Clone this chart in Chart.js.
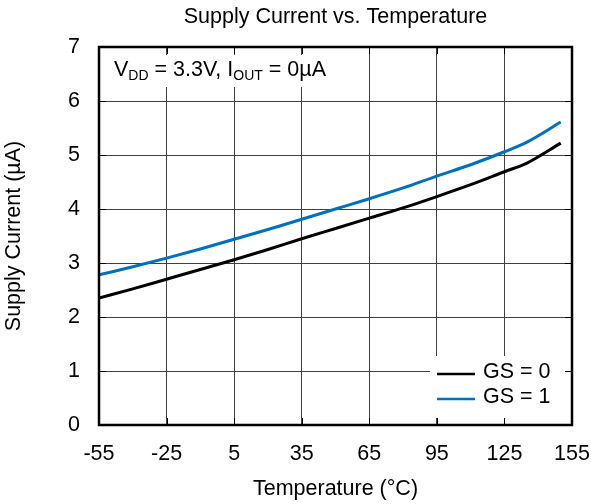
<!DOCTYPE html>
<html>
<head>
<meta charset="utf-8">
<script src="https://cdn.jsdelivr.net/npm/chart.js@4"></script>
<style>
  html, body { margin: 0; padding: 0; background: #fff; }
  #wrap { width: 591px; height: 504px; }
</style>
</head>
<body>
<div id="wrap"><canvas id="c" width="591" height="504"></canvas></div>
<script>
// Supply current vs. temperature, two GS settings
const temperatures = [-55, -40, -25, -10, 5, 20, 35, 50, 65, 80, 95, 110, 125, 135, 150];
const currentGS0   = [2.35, 2.52, 2.70, 2.88, 3.06, 3.25, 3.45, 3.64, 3.83, 4.02, 4.23, 4.45, 4.69, 4.85, 5.22];
const currentGS1   = [2.78, 2.93, 3.09, 3.26, 3.44, 3.62, 3.81, 4.00, 4.19, 4.39, 4.61, 4.82, 5.06, 5.24, 5.61];
const seriesLabels = ['GS = 0', 'GS = 1'];
const xTickValues  = [-55, -25, 5, 35, 65, 95, 125, 155];
const yTickValues  = [0, 1, 2, 3, 4, 5, 6, 7];
const chartTitle   = 'Supply Current vs. Temperature';

const FONT = '"Liberation Sans", Arial, sans-serif';
const FS = 21.5;
const GRID = '#404040';

const toPoints = ys => temperatures.map((t, i) => ({ x: t, y: ys[i] }));

// Title, frame, inner tick marks, condition note and legend box
const decorations = {
  id: 'decorations',
  beforeDatasetsDraw(chart) {
    const { ctx } = chart;
    const xs = chart.scales.x, ys = chart.scales.y;
    const a = chart.chartArea;
    ctx.save();
    ctx.fillStyle = '#fff';
    // note box
    ctx.fillRect(a.left + 6, a.top + 8, 236, 32);
    // legend box
    ctx.fillRect(a.right - 142, a.bottom - 69, 135, 62);
    // inner ticks
    ctx.strokeStyle = '#000';
    ctx.lineWidth = 1;
    ctx.beginPath();
    xTickValues.forEach(v => {
      const px = Math.round(xs.getPixelForValue(v)) + 0.5;
      ctx.moveTo(px, a.bottom); ctx.lineTo(px, a.bottom - 7);
      ctx.moveTo(px, a.top); ctx.lineTo(px, a.top + 7);
    });
    yTickValues.forEach(v => {
      const py = Math.round(ys.getPixelForValue(v)) + 0.5;
      ctx.moveTo(a.left, py); ctx.lineTo(a.left + 7, py);
      ctx.moveTo(a.right, py); ctx.lineTo(a.right - 7, py);
    });
    ctx.stroke();
    ctx.restore();
  },
  afterDatasetsDraw(chart) {
    const { ctx } = chart;
    const a = chart.chartArea;
    ctx.save();
    // frame
    ctx.strokeStyle = '#000';
    ctx.lineWidth = 2.5;
    ctx.strokeRect(a.left, a.top, a.right - a.left, a.bottom - a.top);

    // title, centred over the plot
    ctx.fillStyle = '#000';
    ctx.font = FS + 'px ' + FONT;
    ctx.textAlign = 'center';
    ctx.textBaseline = 'middle';
    ctx.fillText(chartTitle, (a.left + a.right) / 2, 17.5);

    // condition note with subscripts
    ctx.textBaseline = 'alphabetic';
    ctx.textAlign = 'left';
    const big = FS + 'px ' + FONT, small = '14px ' + FONT;
    const base = a.top + 29;
    const parts = [
      ['V', big, 0], ['DD', small, 3.5], [' = 3.3V, I', big, 0],
      ['OUT', small, 3.5], [' = 0µA', big, 0]
    ];
    let x = a.left + 15;
    parts.forEach(([t, f, dy]) => {
      ctx.font = f;
      ctx.fillText(t, x, base + dy);
      x += ctx.measureText(t).width;
    });

    // legend
    ctx.font = FS + 'px ' + FONT;
    ctx.textBaseline = 'middle';
    const rows = [a.bottom - 51, a.bottom - 26];
    chart.data.datasets.forEach((ds, i) => {
      const y = rows[i];
      ctx.strokeStyle = ds.borderColor;
      ctx.lineWidth = 2.5;
      ctx.beginPath();
      ctx.moveTo(a.right - 135, y); ctx.lineTo(a.right - 97, y);
      ctx.stroke();
      ctx.fillStyle = '#000';
      ctx.fillText(ds.label, a.right - 89, y - 1.5);
    });
    ctx.restore();
  }
};

new Chart(document.getElementById('c'), {
  type: 'line',
  data: {
    datasets: [
      { label: seriesLabels[0], data: toPoints(currentGS0), borderColor: '#000000', borderWidth: 3,
        pointRadius: 0, cubicInterpolationMode: 'monotone', fill: false },
      { label: seriesLabels[1], data: toPoints(currentGS1), borderColor: '#0070C0', borderWidth: 3,
        pointRadius: 0, cubicInterpolationMode: 'monotone', fill: false }
    ]
  },
  options: {
    responsive: false,
    animation: false,
    layout: { padding: { left: 0, right: 19, top: 47, bottom: 0 } },
    plugins: {
      legend: { display: false },
      tooltip: { enabled: false },
      title: { display: false }
    },
    scales: {
      x: {
        type: 'linear',
        min: -55, max: 155,
        afterBuildTicks: s => { s.ticks = xTickValues.map(v => ({ value: v })); },
        afterFit: s => { s.height = 79; s.paddingLeft = 0; s.paddingRight = 0; },
        grid: { color: GRID, lineWidth: 1, drawTicks: false },
        border: { display: false },
        ticks: { color: '#000', font: { family: FONT, size: FS }, padding: 16, maxRotation: 0, autoSkip: false },
        title: {
          display: true, text: 'Temperature (°C)', color: '#000',
          font: { family: FONT, size: FS }, padding: { top: 0, bottom: 2 }
        }
      },
      y: {
        min: 0, max: 7,
        afterBuildTicks: s => { s.ticks = yTickValues.map(v => ({ value: v })); },
        afterFit: s => { s.width = 99; s.paddingTop = 0; s.paddingBottom = 0; },
        grid: { color: GRID, lineWidth: 1, drawTicks: false },
        border: { display: false },
        ticks: { color: '#000', font: { family: FONT, size: FS }, padding: 19 },
        title: {
          display: true, text: 'Supply Current (µA)', color: '#000',
          font: { family: FONT, size: FS }, padding: { top: 1, bottom: 0 }
        }
      }
    }
  },
  plugins: [decorations]
});
</script>
</body>
</html>
